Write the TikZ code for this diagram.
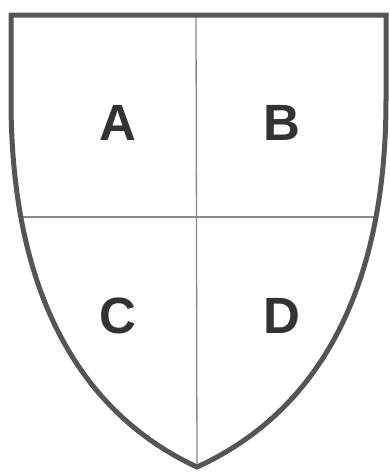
\documentclass[tikz,border=0pt]{standalone}
\usepackage{fontspec}
\setmainfont{Liberation Sans}
\definecolor{shieldgray}{HTML}{555555}
\definecolor{divgray}{HTML}{8A8A8A}
\definecolor{lettergray}{HTML}{333333}
\tikzset{
  shieldline/.style={draw=shieldgray, line width=5pt, line join=miter},
  divider/.style={draw=divgray, line width=1.3pt},
  letter/.style={anchor=base, inner sep=0pt, text=lettergray, font=\fontsize{51}{51}\selectfont\bfseries}
}
\begin{document}
\begin{tikzpicture}[x=1pt,y=-1pt]
\useasboundingbox[fill=white] (0,0) rectangle (390,472);
\coordinate (tl) at (11,15);
\coordinate (tr) at (386,15);
\coordinate (bot) at (197,467);
\coordinate (vtop) at (196,15);
\coordinate (hl) at (21,217);
\coordinate (hr) at (377,217);
\draw[divider] (vtop) -- (bot);
\draw[divider] (hl) -- (hr);
\draw[shieldline] (tl) -- (tr) -- (386,100) .. controls (386,300) and (311,415) .. (bot)
  .. controls (85,415) and (11,300) .. (11,100) -- cycle;
\node[letter] (A) at (118,140) {A};
\node[letter] (B) at (282,140) {B};
\node[letter] (C) at (118,333) {C};
\node[letter] (D) at (282,333) {D};
\end{tikzpicture}
\end{document}
